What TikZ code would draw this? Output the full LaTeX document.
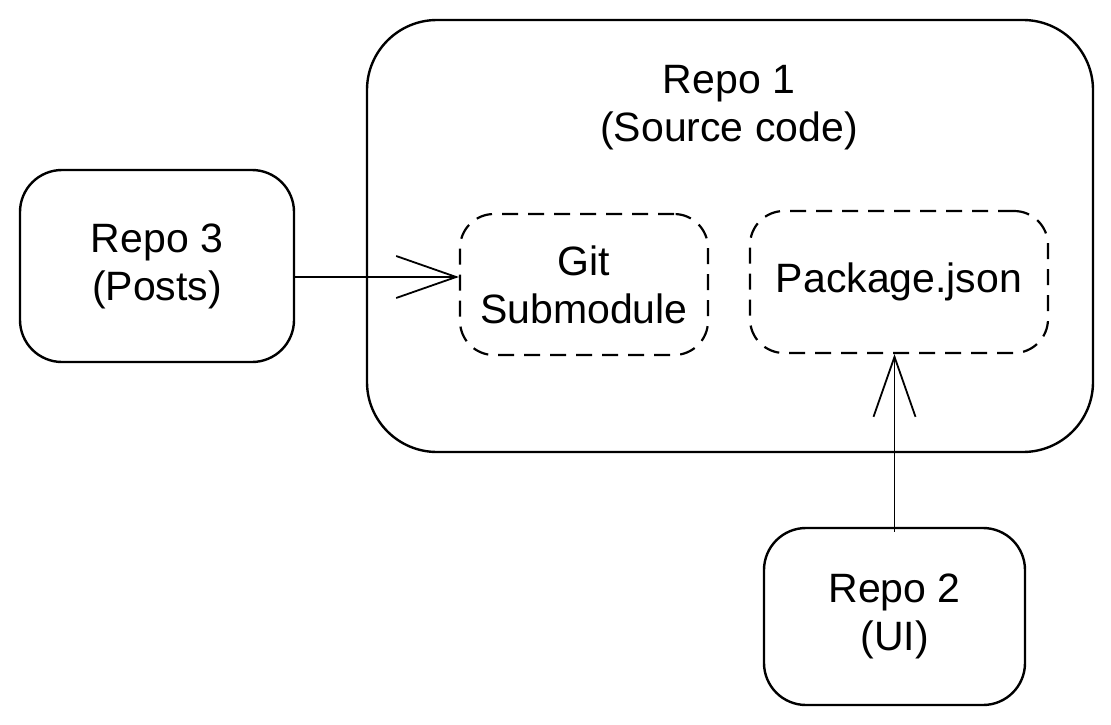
\documentclass[tikz,border=0pt]{standalone}
\usepackage{fontspec}
\setmainfont{Liberation Sans}
\usetikzlibrary{arrows.meta}
\begin{document}
\begin{tikzpicture}[x=1pt,y=-1pt,
  txt/.style={font=\fontsize{41}{48}\selectfont, align=center, text=black},
  solidbox/.style={draw=black, line width=2.4pt, rectangle, txt},
  dashbox/.style={draw=black, line width=2.2pt, rectangle, dash pattern=on 16pt off 10pt, txt},
  arr/.style={draw=black, line width=1.8pt, -{Straight Barb[length=60pt,width=42pt,line width=1.8pt]}}
]
\useasboundingbox[fill=white] (0,0) rectangle (1111,725);

\node[solidbox, rounded corners=70pt, minimum width=726pt, minimum height=432pt] (r1) at (730,236) {};
\node[txt] (r1t) at (729,108) {Repo 1\\(Source code)};

\node[solidbox, rounded corners=42pt, minimum width=274pt, minimum height=192pt] (r3) at (157,266) {Repo 3\\(Posts)};

\node[dashbox, rounded corners=34pt, minimum width=248pt, minimum height=141pt] (git) at (584,284.5) {Git\\Submodule};

\node[dashbox, rounded corners=34pt, minimum width=298pt, minimum height=142pt] (pkg) at (899,282) {Package.json};

\node[solidbox, rounded corners=42pt, minimum width=261pt, minimum height=177pt] (r2) at (894.5,616.5) {Repo 2\\(UI)};

\coordinate (ya) at (0,277);
\draw[arr] (r3.east |- ya) -- (git.west |- ya);
\draw[arr, shorten <=-5pt] (r2.north) -- (r2.north |- pkg.south);
\end{tikzpicture}
\end{document}
